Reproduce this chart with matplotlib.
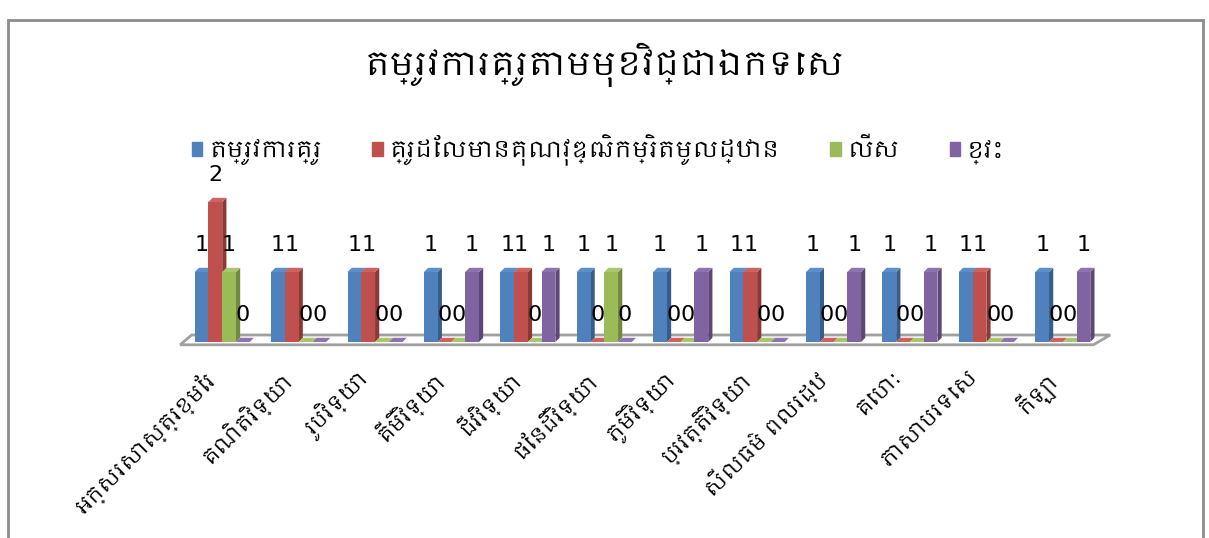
import numpy as np
import matplotlib
matplotlib.use("Agg")
import matplotlib.pyplot as plt
from matplotlib.patches import Polygon, Rectangle
from matplotlib import font_manager
from matplotlib.ft2font import FT2Font

# look for installed fonts with Khmer glyphs, prefer one named Khmer
candidatos = []
for f in font_manager.fontManager.ttflist:
    try:
        if 0x1780 in FT2Font(f.fname).get_charmap():
            candidatos.append(f.name)
    except Exception:
        pass
candidatos.sort(key=lambda n: (0 if "Khmer" in n else 1, n))
fonts = ["DejaVu Sans"] + candidatos[:1]
plt.rcParams["font.family"] = fonts

titulo = "តម្រូវការគ្រូតាមមុខវិជ្ជាឯកទេស"
materias = ["អក្សរសាស្ត្រខ្មែរ", "គណិតវិទ្យា", "រូបវិទ្យា", "គីមីវិទ្យា", "ជីវវិទ្យា",
            "ផែនដីវិទ្យា", "ភូមិវិទ្យា", "ប្រវត្តិវិទ្យា", "សីលធម៌ ពលរដ្ឋ", "គេហ:",
            "ភាសាបរទេស", "កីឡា"]
series = ["តម្រូវការគ្រូ", "គ្រូដែលមានគុណវុឌ្ឍិកម្រិតមូលដ្ឋាន", "លើស", "ខ្វះ"]
tamruv = [1, 1, 1, 1, 1, 1, 1, 1, 1, 1, 1, 1]
kru_mean = [2, 1, 1, 0, 1, 0, 0, 1, 0, 0, 1, 0]
leus = [1, 0, 0, 0, 0, 1, 0, 0, 0, 0, 0, 0]
khvah = [0, 0, 0, 1, 1, 0, 1, 0, 1, 1, 0, 1]

colores = ["#4F81BD", "#C0504D", "#9BBB59", "#8064A2"]
lados = ["#385D8A", "#8C3836", "#71893F", "#5C4776"]
topes = ["#5B8FCC", "#CD625F", "#A9C66C", "#8E74AE"]

fig = plt.figure(figsize=(12.09, 5.38), dpi=100)
fig.patches.append(Rectangle((8 / 1209, -0.05), 1195 / 1209, (538 - 20) / 538 + 0.05,
                             transform=fig.transFigure, fill=False,
                             edgecolor="#8c8c8c", linewidth=2))

ax = fig.add_axes([184 / 1209, (538 - 342) / 538, (1101 - 184) / 1209, 175 / 538])
ax.set_xlim(-0.5, 11.5)
ax.set_ylim(0, 2.5)
ax.axis("off")

x = np.arange(len(materias))
w = 0.18
dx, dy = 0.055, 0.06
datos = [tamruv, kru_mean, leus, khvah]

# piso
ax.add_patch(Polygon([(-0.55, -0.04), (11.4, -0.04), (11.62, 0.1), (-0.4, 0.1)],
                     closed=True, facecolor="white", edgecolor="#a0a0a0",
                     linewidth=2, clip_on=False, zorder=1))

for i, vals in enumerate(datos):
    pos = x - 1.5 * w + i * w
    ax.bar(pos, vals, width=w, color=colores[i], zorder=3 + 3 * i)
    for p, v in zip(pos, vals):
        l, r = p - w / 2, p + w / 2
        ax.add_patch(Polygon([(r, 0), (r + dx, dy), (r + dx, v + dy), (r, v)],
                             closed=True, facecolor=lados[i], edgecolor="none",
                             zorder=2 + 3 * i))
        ax.add_patch(Polygon([(l, v), (l + dx, v + dy), (r + dx, v + dy), (r, v)],
                             closed=True, facecolor=topes[i], edgecolor="none",
                             zorder=4 + 3 * i))
        ax.annotate(str(v), (p, v), xytext=(0, 27), textcoords="offset pixels",
                    ha="center", va="center", fontsize=16, zorder=20)

for xi, nom in zip(x, materias):
    ax.text(xi - 0.25, -0.35, nom, rotation=45, ha="right", va="top",
            rotation_mode="anchor", fontsize=15)

fig.text(0.5, 1 - 65 / 538, titulo, ha="center", va="center", fontsize=24,
         fontweight="bold")

handles = [Rectangle((0, 0), 1, 1, color=c) for c in colores]
fig.legend(handles, series, loc="center", bbox_to_anchor=(0.495, 1 - 150 / 538),
           ncol=4, frameon=False, fontsize=16.5, handlelength=0.45, handleheight=0.6,
           handletextpad=0.3, columnspacing=2.2)

fig.savefig("out.png", dpi=100)
